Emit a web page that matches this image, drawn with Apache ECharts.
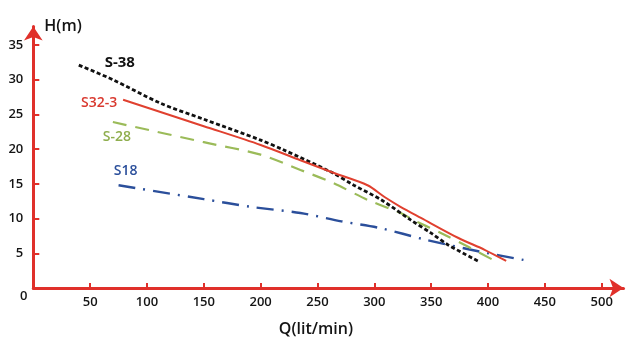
<!DOCTYPE html>
<html>
<head>
<meta charset="utf-8">
<script src="https://cdn.jsdelivr.net/npm/echarts@6/dist/echarts.min.js"></script>
<style>
  html, body { margin: 0; padding: 0; background: #fff; }
  #chart { width: 644px; height: 346px; }
</style>
</head>
<body>
<div id="chart"></div>
<script>
// Pump performance curves: head H (m) against flow Q (lit/min)
const xTicks = [50, 100, 150, 200, 250, 300, 350, 400, 450, 500];
const yTicks = [5, 10, 15, 20, 25, 30, 35];

const seriesNames = ['S-38', 'S32-3', 'S-28', 'S18'];

// [Q, H] points for each pump
const s38 = [[40, 32.1], [70, 30.0], [112, 26.6], [150, 24.3], [200, 21.3], [220, 19.9], [262, 16.7], [282, 14.8], [306, 12.7], [332, 9.8], [350, 7.9], [365, 6.2], [391, 3.9]];
const s32_3 = [[79, 27.1], [150, 23.3], [200, 20.6], [235, 18.4], [264, 16.6], [294, 14.8], [309, 13.1], [323, 11.7], [341, 10.1], [374, 7.2], [397, 5.5], [416, 3.9]];
const s28 = [[70, 23.9], [150, 21.0], [200, 19.2], [235, 17.0], [264, 15.1], [294, 12.7], [323, 10.8], [338, 9.5], [359, 7.9], [383, 5.9], [405, 4.0]];
const s18 = [[75, 14.8], [150, 12.8], [191, 11.7], [235, 10.8], [271, 9.6], [306, 8.6], [344, 7.0], [394, 5.2], [436, 3.9]];

const axisRed = '#e0302a';
const textColor = '#141414';
const font = "'Open Sans', 'DejaVu Sans', sans-serif";

function withStartLabel(points, name, color, weight, size, offset) {
  return points.map((p, i) => i === 0 ? {
    value: p,
    label: {
      show: true, formatter: name, position: 'inside', offset: offset,
      color: color, fontFamily: font, fontWeight: weight, fontSize: size
    }
  } : { value: p });
}

function lineSeries(name, points, color, lineType, width, labelColor, weight, size, offset) {
  return {
    name: name,
    type: 'line',
    smooth: 0.3,
    symbol: 'circle',
    symbolSize: 0,
    showSymbol: true,
    silent: true,
    lineStyle: { color: color, width: width, type: lineType, cap: 'butt' },
    itemStyle: { color: color },
    data: withStartLabel(points, name, labelColor, weight, size, offset)
  };
}

const chart = echarts.init(document.getElementById('chart'), null, { renderer: 'canvas' });
chart.setOption({
  animation: false,
  backgroundColor: '#fff',
  grid: { left: 33.3, right: 20.5, top: 26.5, bottom: 58, containLabel: false },
  xAxis: {
    type: 'value',
    min: 0,
    max: 519.2,
    name: 'Q(lit/min)',
    nameLocation: 'middle',
    nameGap: 33,
    nameTextStyle: { fontFamily: font, fontSize: 16, fontWeight: 600, color: textColor, padding: [0, 25, 0, 0] },
    axisLine: { show: true, onZero: false, symbol: ['none', 'arrow'], symbolSize: [14, 14], lineStyle: { color: axisRed, width: 3 } },
    axisTick: { show: true, inside: true, length: 5, customValues: xTicks, lineStyle: { color: axisRed, width: 2 } },
    axisLabel: { customValues: xTicks, margin: 8, fontFamily: font, fontSize: 13, fontWeight: 600, color: textColor },
    splitLine: { show: false }
  },
  yAxis: {
    type: 'value',
    min: 0,
    max: 37.66,
    name: 'H(m)',
    nameLocation: 'end',
    nameGap: 0,
    nameTextStyle: { fontFamily: font, fontSize: 16, fontWeight: 600, color: textColor, align: 'left', verticalAlign: 'middle', padding: [0, 0, 0, 11] },
    axisLine: { show: true, onZero: false, symbol: ['none', 'arrow'], symbolSize: [14, 14], lineStyle: { color: axisRed, width: 3 } },
    axisTick: { show: true, inside: true, length: 6, customValues: yTicks, lineStyle: { color: axisRed, width: 2 } },
    axisLabel: { customValues: yTicks, margin: 10, fontFamily: font, fontSize: 13, fontWeight: 600, color: textColor },
    splitLine: { show: false }
  },
  graphic: [{
    type: 'text',
    left: 20, top: 290,
    style: { text: '0', font: '600 13px ' + font, fill: textColor }
  }],
  series: [
    lineSeries(seriesNames[3], s18, '#2b4f9b', [17, 8, 2, 8], 2.4, '#2b4f9b', 600, 14, [7, -14]),
    lineSeries(seriesNames[2], s28, '#9bbb59', [14, 9], 2.2, '#8fae4e', 600, 14, [4, 15]),
    lineSeries(seriesNames[0], s38, '#111111', [4, 2.5], 2.8, '#111111', 'bold', 15, [41, -2]),
    lineSeries(seriesNames[1], s32_3, '#e0402f', 'solid', 2, '#d9392f', 600, 14, [-24, 3])
  ]
});
</script>
</body>
</html>
